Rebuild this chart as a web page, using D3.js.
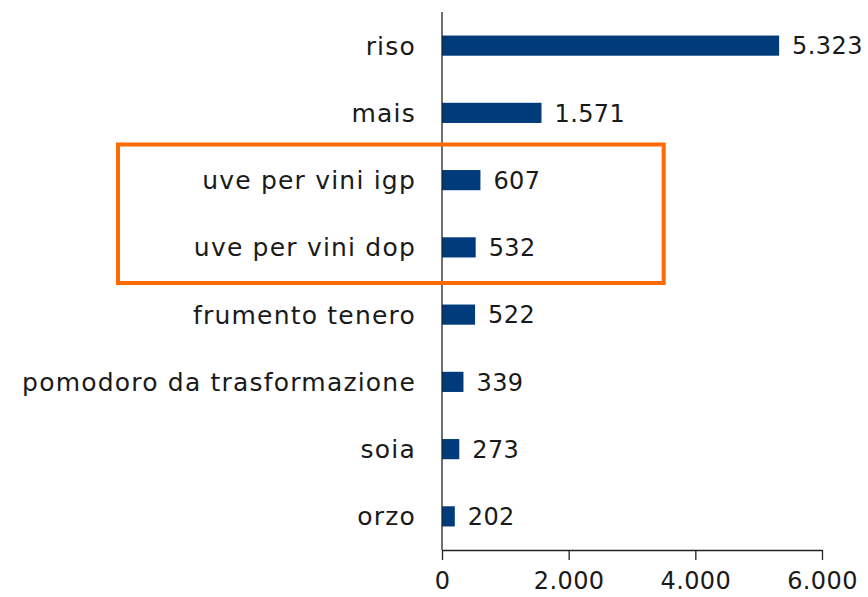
<!DOCTYPE html>
<meta charset="utf-8" />
<title>Colture</title>
<script src="https://d3js.org/d3.v7.min.js"></script>
<style>
body { margin: 0; background: #fff; }
text { font-family: 'DejaVu Sans', sans-serif; fill: #1a1a1a; }
.axis path, .axis line { stroke: #222; }
</style>
<div id="chart"></div>
<script>
var categories = ["riso", "mais", "uve per vini igp", "uve per vini dop", "frumento tenero", "pomodoro da trasformazione", "soia", "orzo"];
var values = [5323, 1571, 607, 532, 522, 339, 273, 202];
var tickValues = [0, 2000, 4000, 6000];
var highlighted = ["uve per vini igp", "uve per vini dop"];

var W = 868, H = 597;
var x0 = 442, x1 = 822, yTop = 12, yBottom = 550;

var fmt = d3.formatLocale({ decimal: ",", thousands: ".", grouping: [3], currency: ["", "€"] }).format(",");

var svg = d3.select("#chart").append("svg")
    .attr("width", W)
    .attr("height", H);

var x = d3.scaleLinear().domain([0, 6000]).range([x0, x1]);
var y = d3.scaleBand().domain(categories).range([yTop, yBottom]).paddingInner(0.7).paddingOuter(0.35);

// bars
svg.selectAll(".bar")
    .data(values)
    .enter().append("rect")
    .attr("class", "bar")
    .attr("x", x(0))
    .attr("y", function(d, i) { return y(categories[i]); })
    .attr("width", function(d) { return x(d) - x(0); })
    .attr("height", y.bandwidth())
    .style("fill", "#003C7B");

// value labels
svg.selectAll(".val")
    .data(values)
    .enter().append("text")
    .attr("class", "val")
    .attr("x", function(d) { return x(d) + 13; })
    .attr("y", function(d, i) { return y(categories[i]) + y.bandwidth() / 2; })
    .attr("dy", "0.36em")
    .style("font-size", "24px")
    .style("letter-spacing", "0.4px")
    .text(function(d) { return fmt(d); });

// category labels
svg.selectAll(".cat")
    .data(categories)
    .enter().append("text")
    .attr("class", "cat")
    .attr("x", x0 - 26)
    .attr("y", function(d) { return y(d) + y.bandwidth() / 2; })
    .attr("dy", "0.36em")
    .attr("text-anchor", "end")
    .style("font-size", "25px")
    .style("letter-spacing", "1.2px")
    .text(function(d) { return d; });

// y axis line
svg.append("line")
    .attr("x1", x(0)).attr("x2", x(0))
    .attr("y1", yTop).attr("y2", yBottom)
    .attr("stroke", "#222").attr("stroke-width", 1.3);

// x axis
var xAxis = svg.append("g")
    .attr("class", "axis")
    .attr("transform", "translate(0," + yBottom + ")")
    .call(d3.axisBottom(x).tickValues(tickValues).tickSize(10).tickSizeOuter(0).tickPadding(12).tickFormat(fmt));
xAxis.select(".domain").attr("stroke-width", 1.3);
xAxis.selectAll(".tick line").attr("stroke-width", 1.3);
xAxis.selectAll("text").style("font-size", "24px").style("letter-spacing", "0.4px").style("font-family", "'DejaVu Sans', sans-serif").attr("fill", "#1a1a1a");

// highlight box around the wine grapes
var step = y.step();
var boxTop = y(highlighted[0]) - (step - y.bandwidth()) / 2 - 2;
var boxBottom = y(highlighted[1]) + y.bandwidth() + (step - y.bandwidth()) / 2 + 2;
svg.append("rect")
    .attr("x", 118)
    .attr("y", boxTop)
    .attr("width", x(3500) - 118)
    .attr("height", boxBottom - boxTop)
    .attr("fill", "none")
    .attr("stroke", "#FF6A00")
    .attr("stroke-width", 4);
</script>
